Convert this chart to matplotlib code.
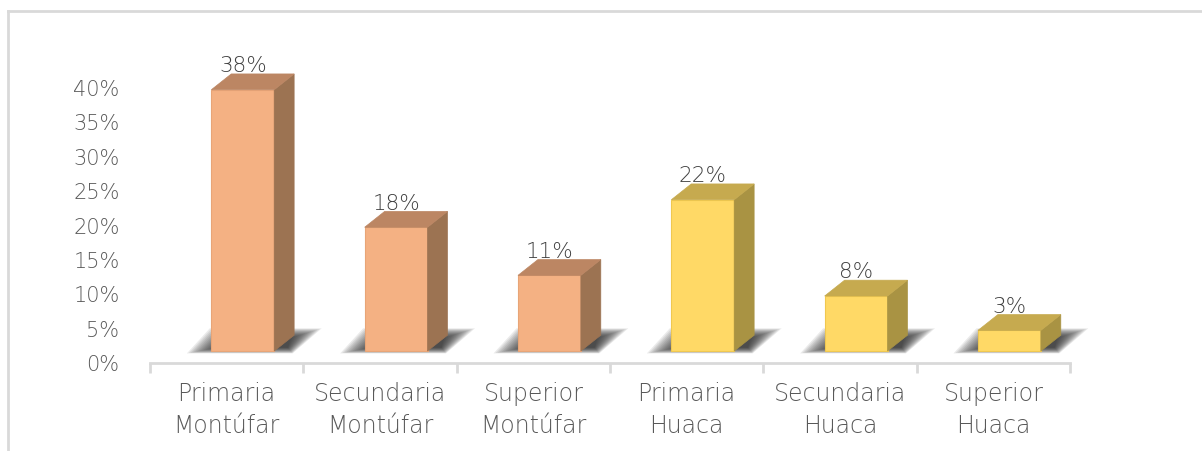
import matplotlib.pyplot as plt
import matplotlib.transforms as mtransforms
from matplotlib.patches import Polygon
from matplotlib.lines import Line2D
import numpy as np

# data
categories = ['Primaria\nMontúfar', 'Secundaria\nMontúfar', 'Superior\nMontúfar',
              'Primaria\nHuaca', 'Secundaria\nHuaca', 'Superior\nHuaca']
values = [38, 18, 11, 22, 8, 3]
labels = ['38%', '18%', '11%', '22%', '8%', '3%']
yticks = [0, 5, 10, 15, 20, 25, 30, 35, 40]

# colours: front, side, top per group
orange = ('#F4B183', '#9C7352', '#BC8663')
yellow = ('#FFD966', '#A99343', '#C6AA4F')
bar_colors = [orange, orange, orange, yellow, yellow, yellow]

plt.rcParams['font.family'] = ['DejaVu Sans']
plt.rcParams['font.weight'] = 'light'
fig = plt.figure(figsize=(12.02, 4.51), dpi=100)
ax = fig.add_axes([150 / 1202, 88 / 451, 920 / 1202, 275 / 451])
ax.set_xlim(-0.5, 5.5)
ax.set_ylim(0, 40)

# 3d look: front face shifted right/up, depth in data units
shift = 0.105
half = 0.205
dx = 0.13
dy = 2.3
floor = mtransforms.offset_copy(ax.transData, fig=fig, x=0, y=12, units='dots')

for i, v in enumerate(values):
    front, side, top = bar_colors[i]
    l = i + shift - half
    r = i + shift + half
    # soft shadow on the floor: layers blending outer shape into inner shape
    outer = np.array([(l - 0.16, -0.35), (r + 0.12, -0.35), (r + dx + 0.18, dy + 1.0), (l - 0.14 + dx, dy + 1.0)])
    inner = np.array([(l + 0.04, 0.5), (r + dx - 0.04, 0.5), (r + dx - 0.02, dy - 0.4), (l + dx, dy - 0.4)])
    n = 16
    for k in range(n):
        t = k / (n - 1)
        pts = outer * (1 - t) + inner * t
        ax.add_patch(Polygon(pts, closed=True, facecolor='#1a1a1a', edgecolor='none', alpha=0.085,
                             transform=floor, zorder=1, clip_on=False))
    ax.bar(i + shift, v, width=2 * half, color=front, edgecolor='#E8A577' if i < 3 else '#F0C850',
           linewidth=0.8, transform=floor, zorder=3, clip_on=False)
    ax.add_patch(Polygon([(r, 0), (r + dx, dy), (r + dx, v + dy), (r, v)], closed=True,
                         facecolor=side, edgecolor=side, linewidth=0.5, transform=floor,
                         zorder=3, clip_on=False))
    ax.add_patch(Polygon([(l, v), (r, v), (r + dx, v + dy), (l + dx, v + dy)], closed=True,
                         facecolor=top, edgecolor=top, linewidth=0.5, transform=floor,
                         zorder=3, clip_on=False))
    ax.text(i + shift, v + dy - 0.3, labels[i], ha='center', va='bottom', fontsize=15.5,
            color='#404040', transform=floor, zorder=4, clip_on=False)

ax.set_yticks(yticks)
ax.set_yticklabels([f'{t}%' for t in yticks])
ax.set_xticks(range(len(categories)))
ax.set_xticklabels(categories, linespacing=1.4)
ax.set_xticks(np.arange(-0.5, 6, 1), minor=True)
ax.tick_params(axis='y', length=0, pad=22, labelsize=15, labelcolor='#595959')
ax.tick_params(axis='x', which='major', length=0, pad=14, labelsize=17, labelcolor='#595959')
ax.tick_params(axis='x', which='minor', length=7, width=2, color='#D9D9D9')
for s in ['top', 'right', 'left']:
    ax.spines[s].set_visible(False)
ax.spines['bottom'].set_color('#D9D9D9')
ax.spines['bottom'].set_linewidth(2)
ax.patch.set_alpha(0)

# chart border (top and left visible)
fig.add_artist(Line2D([8 / 1202, 8 / 1202], [0, 1 - 10.5 / 451], color='#D9D9D9', lw=2))
fig.add_artist(Line2D([8 / 1202, 1], [1 - 10.5 / 451, 1 - 10.5 / 451], color='#D9D9D9', lw=2))

fig.savefig('out.png', dpi=100)
